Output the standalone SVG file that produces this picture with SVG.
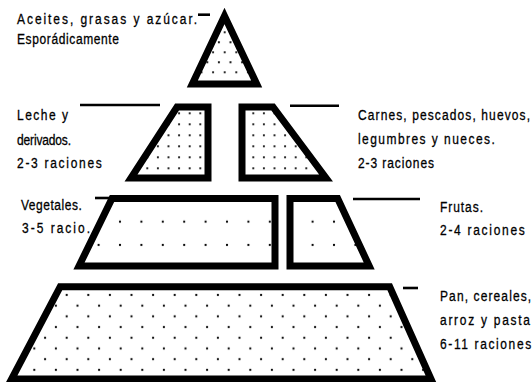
<svg xmlns="http://www.w3.org/2000/svg" width="532" height="382" viewBox="0 0 532 382">
<style>
.lbl{font-family:"Liberation Sans",Arial,sans-serif;font-size:15px;fill:#000;stroke:#000;stroke-width:0.3}
.blk{fill:none;stroke:#000;stroke-width:7;stroke-linejoin:miter;stroke-miterlimit:10}
.tick{stroke:#000;stroke-width:2.6;fill:none}
</style>
<defs>
<pattern id="pTri" patternUnits="userSpaceOnUse" x="4.3" y="1.3" width="11.6" height="20">
<circle cx="5.8" cy="1" r="1.1" fill="#000"/>
<circle cx="0" cy="11" r="1.1" fill="#000"/>
<circle cx="11.6" cy="11" r="1.1" fill="#000"/>
</pattern>
<pattern id="pSmall" patternUnits="userSpaceOnUse" x="9.5" y="3.3" width="10.6" height="11">
<circle cx="0" cy="0" r="1.1" fill="#000"/>
<circle cx="10.6" cy="0" r="1.1" fill="#000"/>
<circle cx="0" cy="11" r="1.1" fill="#000"/>
<circle cx="10.6" cy="11" r="1.1" fill="#000"/>
</pattern>
<pattern id="pMid" patternUnits="userSpaceOnUse" x="13" y="12" width="21.4" height="23.3">
<circle cx="0" cy="0" r="1.1" fill="#000"/>
<circle cx="21.4" cy="0" r="1.1" fill="#000"/>
<circle cx="0" cy="23.3" r="1.1" fill="#000"/>
<circle cx="21.4" cy="23.3" r="1.1" fill="#000"/>
</pattern>
<pattern id="pBig" patternUnits="userSpaceOnUse" x="1.9" y="16.8" width="21.6" height="21.4">
<circle cx="0" cy="0" r="1.1" fill="#000"/>
<circle cx="21.6" cy="0" r="1.1" fill="#000"/>
<circle cx="0" cy="21.4" r="1.1" fill="#000"/>
<circle cx="21.6" cy="21.4" r="1.1" fill="#000"/>
<circle cx="10.8" cy="10.7" r="1.1" fill="#000"/>
</pattern>
</defs>
<rect width="532" height="382" fill="#fff"/>

<g id="connectors">
<line class="tick" x1="198" y1="14.7" x2="210" y2="14.7"/>
<line class="tick" x1="80" y1="105" x2="160" y2="105"/>
<line class="tick" x1="290" y1="105.7" x2="339" y2="105.7"/>
<line class="tick" x1="95" y1="198" x2="112" y2="198"/>
<line class="tick" x1="353" y1="199" x2="420" y2="199"/>
<line class="tick" x1="403" y1="288" x2="418" y2="288"/>
</g>

<g id="aceites">
<polygon points="224.5,16 256.7,84 192.3,84" fill="url(#pTri)"/>
<polygon class="blk" points="224.5,16 256.7,84 192.3,84"/>
<text class="lbl" transform="translate(17,24) scale(0.8,1)" textLength="225" lengthAdjust="spacing">Aceites, grasas y azúcar.</text>
<text class="lbl" transform="translate(17,44) scale(0.8,1)" textLength="127.5" lengthAdjust="spacing">Esporádicamente</text>
</g>

<g id="leche">
<polygon points="177,107 208,107 208,178 131,178" fill="url(#pSmall)"/>
<polygon class="blk" points="177,107 208,107 208,178 131,178"/>
<text class="lbl" transform="translate(17,120) scale(0.8,1)" textLength="63.8" lengthAdjust="spacing">Leche y</text>
<text class="lbl" transform="translate(17,145) scale(0.8,1)" textLength="67.5" lengthAdjust="spacing">derivados.</text>
<text class="lbl" transform="translate(17,168) scale(0.8,1)" textLength="106" lengthAdjust="spacing">2-3 raciones</text>
</g>

<g id="carnes">
<polygon points="242,107 273,107 326,178 242,178" fill="url(#pSmall)"/>
<polygon class="blk" points="242,107 273,107 326,178 242,178"/>
<text class="lbl" transform="translate(358,120) scale(0.8,1)" textLength="215" lengthAdjust="spacing">Carnes, pescados, huevos,</text>
<text class="lbl" transform="translate(358,144) scale(0.8,1)" textLength="171" lengthAdjust="spacing">legumbres y nueces.</text>
<text class="lbl" transform="translate(358,168) scale(0.8,1)" textLength="95" lengthAdjust="spacing">2-3 raciones</text>
</g>

<g id="vegetales">
<polygon points="112,198.5 275,198.5 275,266 79,266" fill="url(#pMid)"/>
<polygon class="blk" points="112,198.5 275,198.5 275,266 79,266"/>
<text class="lbl" transform="translate(21,210) scale(0.8,1)" textLength="76" lengthAdjust="spacing">Vegetales.</text>
<text class="lbl" transform="translate(22,233) scale(0.8,1)" textLength="85" lengthAdjust="spacing">3-5 racio.</text>
</g>

<g id="frutas">
<polygon points="290,198.5 337.7,198.5 369.2,266 290,266" fill="url(#pMid)"/>
<polygon class="blk" points="290,198.5 337.7,198.5 369.2,266 290,266"/>
<text class="lbl" transform="translate(440,212) scale(0.8,1)" textLength="53.8" lengthAdjust="spacing">Frutas.</text>
<text class="lbl" transform="translate(440,235) scale(0.8,1)" textLength="106" lengthAdjust="spacing">2-4 raciones</text>
</g>

<g id="pan">
<polygon points="60.2,286.7 389.7,286.7 431,379 11.6,379" fill="url(#pBig)"/>
<polygon class="blk" points="60.2,286.7 389.7,286.7 431,379 11.6,379"/>
<text class="lbl" transform="translate(440,301) scale(0.8,1)" textLength="114" lengthAdjust="spacing">Pan, cereales,</text>
<text class="lbl" transform="translate(440,325) scale(0.8,1)" textLength="112.5" lengthAdjust="spacing">arroz y pasta</text>
<text class="lbl" transform="translate(440,349) scale(0.8,1)" textLength="114" lengthAdjust="spacing">6-11 raciones</text>
</g>
</svg>
